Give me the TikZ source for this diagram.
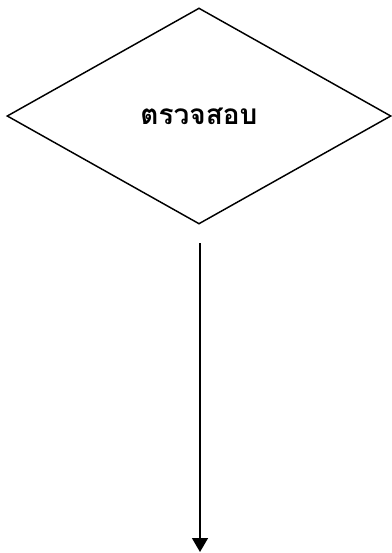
\documentclass[tikz,border=0pt]{standalone}
\usepackage{fontspec}
\newfontfamily\thaifont[Script=Thai]{Loma}
\usetikzlibrary{shapes.geometric,arrows.meta}

\begin{document}
\begin{tikzpicture}[>={Triangle[width=12pt,length=10.5pt]},x=0.75pt,y=-0.75pt,line width=1.1pt]
  \useasboundingbox(0,0)rectangle(392,553);
  \node[draw,diamond,inner sep=0pt,minimum width=288pt,minimum height=162pt,font=\thaifont\bfseries\fontsize{21}{25}\selectfont](chk)at(199,116){ตรวจสอบ};
  \coordinate(from)at(200,243);
  \coordinate(to)at(200,552);
  \draw[->](from)--(to);
\end{tikzpicture}
\end{document}
